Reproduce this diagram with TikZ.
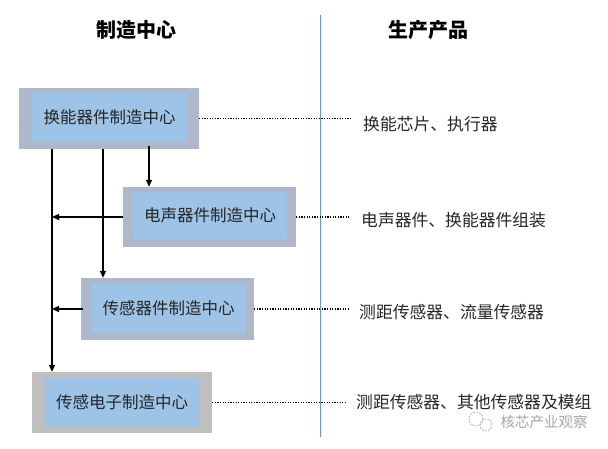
\documentclass[tikz,border=0pt]{standalone}
\usepackage{fontspec}
\setmainfont{Noto Sans CJK SC}
\usetikzlibrary{arrows.meta}
\definecolor{framebg}{HTML}{ADB9CA}
\definecolor{framegray}{HTML}{BFBFBF}
\definecolor{corefill}{HTML}{9DC3E6}
\definecolor{sepblue}{HTML}{5B9BD5}
\definecolor{textdark}{HTML}{262626}
\definecolor{markgray}{HTML}{A6A6A6}

\begin{document}
\begin{tikzpicture}[x=1pt,y=-1pt,
  frame/.style={fill=#1,inner sep=0pt},
  core/.style={fill=corefill,inner sep=0pt,text=textdark,font=\fontsize{16.5}{18}\selectfont},
  product/.style={anchor=west,inner xsep=11pt,inner ysep=0pt,text=textdark,font=\fontsize{16.8}{18}\selectfont},
  title/.style={font=\fontsize{20}{22}\selectfont\bfseries},
  link/.style={-{Triangle[length=7pt,width=6pt]},line width=1.3pt},
  dots/.style={line width=1.2pt,dash pattern=on 1.2pt off 1.4pt}]
\useasboundingbox (0,0) rectangle (608,448);

% column titles
\node[title] (lefttitle) at (136,30) {制造中心};
\node[title] (righttitle) at (428,30) {生产产品};

% separator
\coordinate (septop) at (320,15);
\coordinate (sepbot) at (320,437);
\draw[sepblue,line width=0.9pt] (septop) -- (sepbot);

% manufacturing centres
\node[frame=framebg,minimum width=180pt,minimum height=61pt] (hn) at (109,118.5) {};
\node[core,minimum width=155pt,minimum height=49pt] (hnin) at (109.5,117.5) {换能器件制造中心};

\node[frame=framebg,minimum width=173pt,minimum height=60pt] (ds) at (209.5,217) {};
\node[core,minimum width=154pt,minimum height=47pt] (dsin) at (210,215.5) {电声器件制造中心};

\node[frame=framebg,minimum width=173pt,minimum height=62pt] (cg) at (167.5,309) {};
\node[core,minimum width=155pt,minimum height=49pt] (cgin) at (168.5,308.5) {传感器件制造中心};

\node[frame=framegray,minimum width=180pt,minimum height=61pt] (dz) at (122,402.5) {};
\node[core,minimum width=154pt,minimum height=49pt] (dzin) at (122,402.5) {传感电子制造中心};

% products
\node[product] (p1) at (352,124) {换能芯片、执行器};
\node[product] (p2) at (350,220) {电声器件、换能器件组装};
\node[product] (p3) at (348,312) {测距传感器、流量传感器};
\node[product] (p4) at (345,402) {测距传感器、其他传感器及模组};

\draw[dots] (hn.east) -- (hn.east -| p1.west);
\draw[dots] (ds.east) -- (ds.east -| p2.west);
\draw[dots] (cg.east) -- (cg.east -| p3.west);
\draw[dots] (dz.east) -- (dz.east -| p4.west);

% flows between centres
\coordinate (trunk) at (52,0);
\coordinate (midline) at (103,0);
\coordinate (rightline) at (149,0);
\draw[link] (hn.south -| trunk) -- (dz.north -| trunk);
\draw[link] (hn.south -| midline) -- (cg.north -| midline);
\draw[link] ([yshift=3pt]hn.south -| rightline) -- (ds.north -| rightline);
\draw[link] (ds.west) -- (ds.west -| trunk);
\draw[link] ([xshift=2pt]cg.west) -- (cg.west -| trunk);

% watermark
\node[text=markgray,font=\fontsize{14.5}{16}\selectfont] (mark) at (544,422) {核芯产业观察};
\draw[markgray,line width=0.6pt,dash pattern=on 2pt off 1pt] (476,419) circle (7pt);
\draw[markgray,line width=0.6pt,dash pattern=on 2pt off 1pt] (486,425) circle (6pt);
\end{tikzpicture}
\end{document}
